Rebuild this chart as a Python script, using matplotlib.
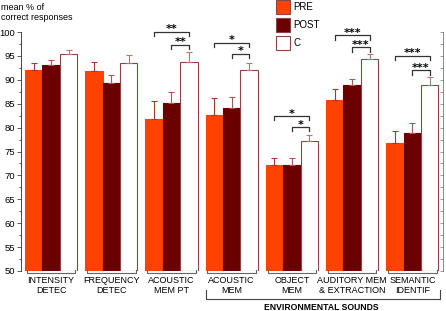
import numpy as np
import matplotlib
matplotlib.use("Agg")
import matplotlib.pyplot as plt
from matplotlib.patches import Rectangle
from matplotlib.ticker import MultipleLocator

# ==========================================================
# DATA
# ==========================================================

categories = [
    "INTENSITY\nDETEC",
    "FREQUENCY\nDETEC",
    "ACOUSTIC\nMEM PT",
    "ACOUSTIC\nMEM",
    "OBJECT\nMEM",
    "AUDITORY MEM\n& EXTRACTION",
    "SEMANTIC\nIDENTIF",
]

series_names = ["PRE", "POST", "C"]

pre_mean = [92.1, 91.8, 81.7, 82.7, 72.1, 85.8, 76.7]
post_mean = [93.0, 89.4, 85.2, 84.1, 72.2, 88.9, 78.9]
c_mean = [95.4, 93.5, 93.8, 92.0, 77.1, 94.4, 88.9]

pre_err = [1.4, 1.9, 3.9, 3.4, 1.5, 2.3, 2.6]
post_err = [1.2, 1.5, 2.3, 2.4, 1.5, 1.3, 2.0]
c_err = [0.9, 1.7, 2.0, 1.6, 1.3, 1.0, 1.7]

# significance brackets per group
sig_groups = [2, 3, 4, 5, 6]
sig_outer = ["**", "*", "*", "***", "***"]
sig_outer_y = [100.0, 97.8, 82.4, 99.3, 95.0]
sig_inner = ["**", "*", "*", "***", "***"]
sig_inner_y = [97.3, 95.5, 80.1, 96.8, 92.0]

env_label = "ENVIRONMENTAL SOUNDS"
env_first, env_last = 3, 6

# ==========================================================
# STYLE
# ==========================================================

colors = ["#FF4200", "#6B0000", "white"]
edges = ["#FF4200", "#6B0000", "#8E4444"]
err_colors = ["#A03A2A", "#A05A5A", "#B07878"]
width = 0.29

plt.rcParams["font.family"] = ["Liberation Sans", "DejaVu Sans"]

fig = plt.figure(figsize=(4.46, 3.11), dpi=100)
ax = fig.add_axes([21 / 446, 1 - 271 / 311, 422 / 446, 239 / 311])

x = np.arange(len(categories))
means = [pre_mean, post_mean, c_mean]
errs = [pre_err, post_err, c_err]

for k in range(3):
    xpos = x + (k - 1) * width
    ax.bar(
        xpos, np.array(means[k]) - 50, width, bottom=50,
        color=colors[k], edgecolor=edges[k], linewidth=0.8, zorder=2
    )
    ax.errorbar(
        xpos, means[k], yerr=[np.zeros(len(x)), errs[k]],
        fmt="none", ecolor=err_colors[k], elinewidth=0.8,
        capsize=2, capthick=0.8, zorder=3
    )

# ==========================================================
# AXES
# ==========================================================

ax.set_xlim(-0.50, 6.51)
ax.set_ylim(50, 100)
ax.yaxis.set_major_locator(MultipleLocator(5))
ax.yaxis.set_minor_locator(MultipleLocator(2.5))
ax.tick_params(axis="y", which="major", labelsize=6.8, length=3,
               width=0.6, color="#444444", pad=1)
ax.tick_params(axis="y", which="minor", length=1.5, width=0.6,
               color="#444444")
ax.tick_params(axis="y", which="both", right=False, direction="out")
ax.set_xticks([])

for side in ["top", "bottom"]:
    ax.spines[side].set_visible(False)
ax.spines["left"].set_color("#444444")
ax.spines["left"].set_linewidth(0.7)
ax.spines["right"].set_color("#888888")
ax.spines["right"].set_linewidth(0.7)

ax2 = ax.twinx()
ax2.set_ylim(50, 100)
ax2.yaxis.set_major_locator(MultipleLocator(2.5))
ax2.tick_params(axis="y", direction="in", length=2, width=0.6,
                color="#888888", labelright=False)
for side in ["top", "bottom", "left", "right"]:
    ax2.spines[side].set_visible(False)

fig.text(0.003, 0.99, "mean % of\ncorrect responses", ha="left",
         va="top", fontsize=6.5, linespacing=1.15)

# ==========================================================
# GROUP BRACKETS AND LABELS
# ==========================================================

for i, label in enumerate(categories):
    x0 = i - 1.5 * width + 0.03
    x1 = i + 1.5 * width - 0.03
    ax.plot([x0, x0, x1, x1], [50.3, 49.5, 49.5, 50.3],
            color="#666666", lw=0.8, clip_on=False)
    ax.text(i, 48.9, label, ha="center", va="top", fontsize=6.5,
            linespacing=1.15)

ex0 = env_first - 1.5 * width
ex1 = env_last + 1.5 * width + 0.03
ax.plot([ex0, ex0, ex1, ex1], [46.0, 44.1, 44.1, 46.0],
        color="#444444", lw=0.8, clip_on=False)
ax.text((ex0 + ex1) / 2 - 0.03, 43.4, env_label, ha="center",
        va="top", fontsize=6.2, fontweight="bold")

# ==========================================================
# SIGNIFICANCE BRACKETS
# ==========================================================

for g, lo, yo, li, yi in zip(sig_groups, sig_outer, sig_outer_y,
                             sig_inner, sig_inner_y):
    xa = g - width
    xb = g
    xc = g + width
    ax.plot([xa, xa, xc, xc], [yo - 0.9, yo, yo, yo - 0.9],
            color="#333333", lw=0.9, clip_on=False)
    ax.text((xa + xc) / 2, yo - 0.5, lo, ha="center", va="bottom",
            fontsize=8, fontweight="bold", family="DejaVu Sans")
    ax.plot([xb, xb, xc, xc], [yi - 0.9, yi, yi, yi - 0.9],
            color="#333333", lw=0.9, clip_on=False)
    ax.text((xb + xc) / 2, yi - 0.5, li, ha="center", va="bottom",
            fontsize=8, fontweight="bold", family="DejaVu Sans")

# ==========================================================
# LEGEND
# ==========================================================

for k, name in enumerate(series_names):
    y_top = 1 - (k * 18) / 311
    fig.patches.append(Rectangle(
        (276 / 446, y_top - 14 / 311), 14 / 446, 14 / 311,
        transform=fig.transFigure, facecolor=colors[k],
        edgecolor="#8E4444", linewidth=0.8
    ))
    fig.text(293 / 446, y_top - 7.5 / 311, name, ha="left",
             va="center", fontsize=7)

fig.savefig("out.png", dpi=100)
